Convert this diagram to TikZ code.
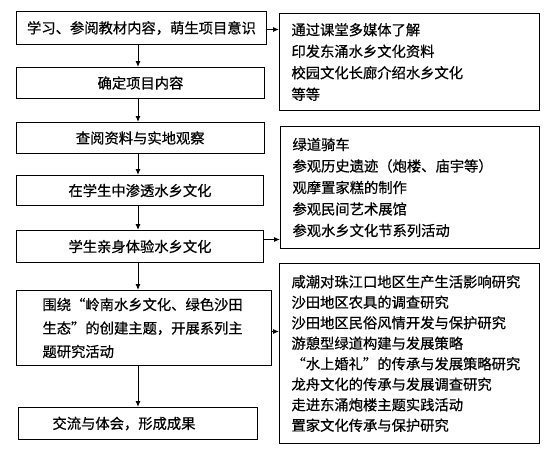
\documentclass[tikz,border=0pt]{standalone}
\usepackage{fontspec}
\newfontfamily\cjk[FakeBold=0.6]{Noto Sans CJK SC}
\usetikzlibrary{arrows.meta}
\begin{document}
\begin{tikzpicture}[x=1pt,y=-1pt,
  box/.style={draw, line width=1pt, inner sep=0pt, anchor=north west,
    font=\cjk\fontsize{14.3}{21.5}\selectfont},
  side/.style={box, align=left, inner xsep=12pt, text width=236pt},
  arr/.style={line width=1pt, -{Latex[length=6pt,width=5pt]}}]
\useasboundingbox[fill=white] (0,0) rectangle (550,450);
% left column
\node[box, minimum width=250pt, minimum height=33pt] (b1) at (16,11) {学习、参阅教材内容，萌生项目意识};
\node[box, minimum width=248pt, minimum height=31pt] (b2) at (16,67) {确定项目内容};
\node[box, minimum width=247.5pt, minimum height=31pt] (b3) at (16,122) {查阅资料与实地观察};
\node[box, minimum width=247pt, minimum height=30pt] (b4) at (16,175) {在学生中渗透水乡文化};
\node[box, minimum width=247pt, minimum height=32pt] (b5) at (16,230) {学生亲身体验水乡文化};
\node[box, minimum height=75pt, align=left, inner xsep=26pt, text width=203pt,
  font=\cjk\fontsize{14.3}{23.5}\selectfont] (b6) at (16,290)
  {围绕“岭南水乡文化、绿色沙田\\生态”的创建主题，开展系列主\\题研究活动};
\node[box, minimum height=32pt, align=left, inner xsep=34pt, text width=171pt] (b7) at (18,407) {交流与体会，形成成果};
% right column
\node[side, minimum height=97pt] (r1) at (279,13)
  {通过课堂多媒体了解\\印发东涌水乡文化资料\\校园文化长廊介绍水乡文化\\等等};
\node[side, text width=235pt, minimum height=122pt] (r2) at (280,126)
  {绿道骑车\\参观历史遗迹（炮楼、庙宇等）\\观摩置家糕的制作\\参观民间艺术展馆\\参观水乡文化节系列活动};
\node[side, minimum height=180pt, font=\cjk\fontsize{14.3}{20.5}\selectfont] (r3) at (279,263)
  {咸潮对珠江口地区生产生活影响研究\\沙田地区农具的调查研究\\沙田地区民俗风情开发与保护研究\\游憩型绿道构建与发展策略\\“水上婚礼”的传承与发展策略研究\\龙舟文化的传承与发展调查研究\\走进东涌炮楼主题实践活动\\置家文化传承与保护研究};
% vertical connectors
\coordinate (ax) at (138,0);
\draw[arr] (b1.south -| ax) -- (b2.north -| ax);
\draw[arr] (b2.south -| ax) -- (b3.north -| ax);
\draw[arr] (b3.south -| ax) -- (b4.north -| ax);
\draw[arr] (b4.south -| ax) -- (b5.north -| ax);
\draw[arr] (b5.south -| ax) -- (b6.north -| ax);
\draw[arr] (b6.south -| ax) -- (b7.north -| ax);
% horizontal connectors
\coordinate (h1) at ([yshift=-1.5pt]b1.east);
\coordinate (h2) at ([yshift=7pt]b5.east);
\coordinate (h3) at ([yshift=-3.5pt]b6.east);
\draw[arr] (h1) -- (h1 -| r1.west);
\draw[arr] (h2) -- (h2 -| r2.west);
\draw[arr] (h3) -- (h3 -| r3.west);
\end{tikzpicture}
\end{document}
